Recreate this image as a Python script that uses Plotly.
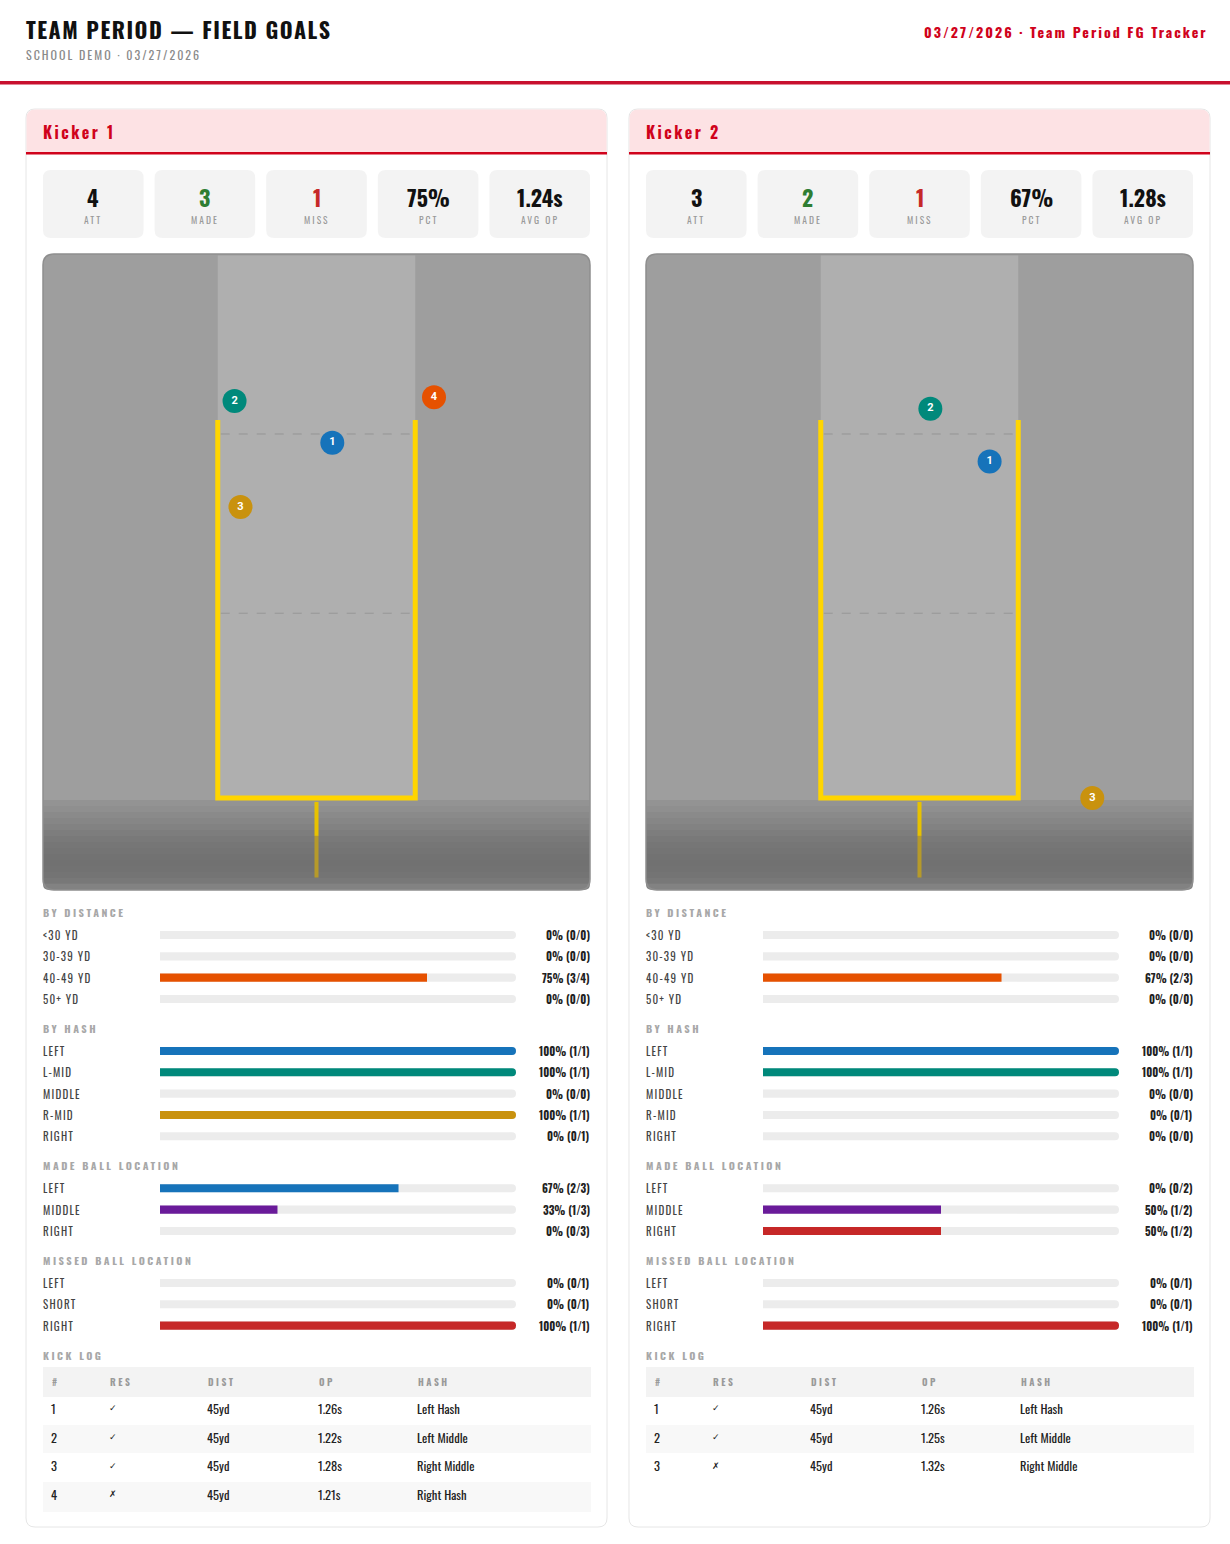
import plotly.graph_objects as go

W, H = 1230, 1544

# ------------------------------------------------------------------ data
TITLE = "TEAM PERIOD — FIELD GOALS"
SUBTITLE = "SCHOOL DEMO · 03/27/2026"
TAGLINE = "03/27/2026 · Team Period FG Tracker"

KICKER_NAMES = ["Kicker 1", "Kicker 2"]
STAT_LABELS = ["ATT", "MADE", "MISS", "PCT", "AVG OP"]
LOG_HEADERS = ["#", "RES", "DIST", "OP", "HASH"]

# kick logs
k1_num = [1, 2, 3, 4]
k1_good = [True, True, True, False]
k1_dist = [45, 45, 45, 45]
k1_op = [1.26, 1.22, 1.28, 1.21]
k1_hash = ["Left Hash", "Left Middle", "Right Middle", "Right Hash"]
# landing spot (x: uprights at -1/+1, y: crossbar = 0, upright tops = 1)
k1_land_x = [0.16, -0.83, -0.77, 1.19]
k1_land_y = [0.94, 1.05, 0.77, 1.06]

k2_num = [1, 2, 3]
k2_good = [True, True, False]
k2_dist = [45, 45, 45]
k2_op = [1.26, 1.25, 1.32]
k2_hash = ["Left Hash", "Left Middle", "Right Middle"]
k2_land_x = [0.71, 0.11, 1.75]
k2_land_y = [0.89, 1.03, 0.00]

# breakdown categories
DIST_CATS = ["<30 YD", "30-39 YD", "40-49 YD", "50+ YD"]
HASH_CATS = ["LEFT", "L-MID", "MIDDLE", "R-MID", "RIGHT"]
MADE_LOC_CATS = ["LEFT", "MIDDLE", "RIGHT"]
MISS_LOC_CATS = ["LEFT", "SHORT", "RIGHT"]
SECTION_TITLES = ["BY DISTANCE", "BY HASH", "MADE BALL LOCATION", "MISSED BALL LOCATION"]

# kicker 1 breakdown (made / total)
k1_dist_n = [0, 0, 3, 0]
k1_dist_d = [0, 0, 4, 0]
k1_hash_n = [1, 1, 0, 1, 0]
k1_hash_d = [1, 1, 0, 1, 1]
k1_madeloc_n = [2, 1, 0]
k1_madeloc_d = [3, 3, 3]
k1_missloc_n = [0, 0, 1]
k1_missloc_d = [1, 1, 1]

# kicker 2 breakdown
k2_dist_n = [0, 0, 2, 0]
k2_dist_d = [0, 0, 3, 0]
k2_hash_n = [1, 1, 0, 0, 0]
k2_hash_d = [1, 1, 0, 1, 0]
k2_madeloc_n = [0, 1, 1]
k2_madeloc_d = [2, 2, 2]
k2_missloc_n = [0, 0, 1]
k2_missloc_d = [1, 1, 1]

# colours
RED = "#d0021b"
HASH_COLOR = {"Left Hash": "#1673ba", "Left Middle": "#00897b", "Middle": "#6a1b9a",
              "Right Middle": "#c9920e", "Right Hash": "#e65100"}
DIST_COLORS = ["#e65100"] * 4
HASH_BAR_COLORS = ["#1673ba", "#00897b", "#6a1b9a", "#c9920e", "#e65100"]
MADE_LOC_COLORS = ["#1673ba", "#6a1b9a", "#c62828"]
MISS_LOC_COLORS = ["#1673ba", "#757575", "#c62828"]
STAT_COLORS = ["#111111", "#2e7d32", "#c62828", "#111111", "#111111"]

# field frame in landing coordinates
FIELD_X = [-2.77, 2.77]
FIELD_Y = [-0.243, 1.439]
DASH_LEVELS = [0.963, 0.489]
POST_BOTTOM = -0.21
TRACK_MAX = 100

# ------------------------------------------------------------------ helpers
COND = "Oswald, 'Liberation Sans Narrow', 'Arial Narrow', 'DejaVu Sans Condensed', Roboto, sans-serif"
WIDE = "Roboto, 'Noto Sans', 'DejaVu Sans', sans-serif"


def px(x):
    return x / W


def py(y):
    return 1 - y / H


def P(x, y):
    return f"{px(x):.5f},{py(y):.5f}"


def spaced(s, ls):
    return f'<span style="letter-spacing:{ls}px">{s}</span>' if ls else s


shapes, annotations, traces = [], [], []
layout_axes = {}


def rrect(x0, y0, x1, y1, r, fill, line=None, lw=0, tl=True, tr=True, br=True, bl=True):
    d = ["M" + P(x0 + (r if tl else 0), y0), "L" + P(x1 - (r if tr else 0), y0)]
    if tr:
        d.append("Q" + P(x1, y0) + " " + P(x1, y0 + r))
    d.append("L" + P(x1, y1 - (r if br else 0)))
    if br:
        d.append("Q" + P(x1, y1) + " " + P(x1 - r, y1))
    d.append("L" + P(x0 + (r if bl else 0), y1))
    if bl:
        d.append("Q" + P(x0, y1) + " " + P(x0, y1 - r))
    d.append("L" + P(x0, y0 + (r if tl else 0)))
    if tl:
        d.append("Q" + P(x0, y0) + " " + P(x0 + r, y0))
    d.append("Z")
    shapes.append(dict(type="path", path=" ".join(d), xref="paper", yref="paper",
                       fillcolor=fill, line=dict(color=line or "rgba(0,0,0,0)", width=lw),
                       layer="below"))


def rect(x0, y0, x1, y1, fill):
    shapes.append(dict(type="rect", xref="paper", yref="paper", x0=px(x0), x1=px(x1),
                       y0=py(y1), y1=py(y0), fillcolor=fill, line=dict(width=0), layer="below"))


def text(x, y, s, size, color, family=COND, weight=400, anchor="left", yref="paper", ls=0):
    # compensate the small inner padding of annotation boxes
    xo = x - 2 if anchor == "left" else (x + 2 if anchor == "right" else x)
    annotations.append(dict(x=px(xo), y=py(y) if yref == "paper" else y, xref="paper",
                            yref=yref, text=spaced(s, ls), showarrow=False, xanchor=anchor,
                            yanchor="middle",
                            font=dict(size=size, color=color, family=family, weight=weight)))


def akey(kind, n):
    return kind + ("" if n == 1 else str(n))


def aref(kind, n):
    return kind[0] + ("" if n == 1 else str(n))


# ------------------------------------------------------------------ page header
text(26, 29, TITLE, 22, "#111111", COND, 700, ls=1.5)
text(26, 54, SUBTITLE, 12, "#8a8a8a", COND, 400, ls=2)
text(1208, 32, TAGLINE, 14, RED, COND, 700, anchor="right", ls=2)
rect(0, 81, W, 84.5, "#c8102e")


def build_kicker(k, name, nums, good, dist, op, hsh, lx, ly, sections):
    dx = k * 603
    base = 1 + k * 5

    # panel
    rrect(26 + dx, 109, 607 + dx, 1527, 9, "#ffffff", "#e6e6e6", 1)
    rrect(26.5 + dx, 109.5, 606.5 + dx, 153, 9, "#fde2e4", br=False, bl=False)
    rect(26 + dx, 152, 607 + dx, 154.5, RED)
    text(43 + dx, 132, name, 16, RED, COND, 700, ls=2.5)

    # stat cards
    att = len(nums)
    made = sum(1 for g in good if g)
    vals = [str(att), str(made), str(att - made), f"{round(100 * made / att)}%",
            f"{sum(op) / len(op):.2f}s"]
    cw, gap = 100.6, 11.0
    for i, (v, lab) in enumerate(zip(vals, STAT_LABELS)):
        x0 = 43 + dx + i * (cw + gap)
        rrect(x0, 170, x0 + cw, 238, 8, "#f3f3f3")
        text(x0 + cw / 2, 197, v, 22, STAT_COLORS[i], COND, 700, anchor="center")
        text(x0 + cw / 2, 220, lab, 9.5, "#9a9a9a", COND, 400, anchor="center", ls=2)

    # field
    fx, fy = akey("xaxis", base), akey("yaxis", base)
    layout_axes[fx] = dict(domain=[px(43 + dx), px(590 + dx)], range=FIELD_X, visible=False,
                           fixedrange=True, anchor=aref("y", base))
    layout_axes[fy] = dict(domain=[py(890), py(254)], range=FIELD_Y, visible=False,
                           fixedrange=True, anchor=aref("x", base))
    xr, yr = aref("x", base), aref("y", base)
    rrect(43 + dx, 254, 590 + dx, 890, 11, "#9e9e9e")
    # ground gradient
    stops = [(0.0, 150), (0.15, 140), (0.45, 120), (0.7, 113), (0.88, 118), (1.0, 135)]
    n_strip = 15
    g0, g1 = 800, 890
    for j in range(n_strip):
        t = (j + 0.5) / n_strip
        for (ta, va), (tb, vb) in zip(stops[:-1], stops[1:]):
            if ta <= t <= tb:
                v = int(va + (vb - va) * (t - ta) / (tb - ta))
                break
        c = f"rgb({v},{v},{v})"
        y0 = g0 + (g1 - g0) * j / n_strip
        y1 = g0 + (g1 - g0) * (j + 1) / n_strip
        if j == n_strip - 1:
            rrect(43 + dx, y0 - 0.3, 590 + dx, y1, 6, c, tl=False, tr=False)
        else:
            rect(43 + dx, y0, 590 + dx, y1 + 0.4, c)
    rrect(43 + dx, 254, 590 + dx, 890, 11, "rgba(0,0,0,0)", "#8e8e8e", 1.5)
    # centre band between uprights
    shapes.append(dict(type="rect", xref=xr, yref=yr, x0=-1, x1=1, y0=0, y1=FIELD_Y[1] - 0.004,
                       fillcolor="#afafaf", line=dict(width=0), layer="below"))
    for lv in DASH_LEVELS:
        shapes.append(dict(type="line", xref=xr, yref=yr, x0=-0.97, x1=0.97, y0=lv, y1=lv,
                           line=dict(color="rgba(120,120,120,0.45)", width=1, dash="dash"),
                           layer="below"))
    # goalpost
    shapes.append(dict(type="path", xref=xr, yref=yr, path="M -1,1 L -1,0 L 1,0 L 1,1",
                       line=dict(color="#ffd500", width=5), layer="below"))
    shapes.append(dict(type="line", xref=xr, yref=yr, x0=0, x1=0, y0=-0.01, y1=-0.1,
                       line=dict(color="#e8c200", width=4), layer="below"))
    shapes.append(dict(type="line", xref=xr, yref=yr, x0=0, x1=0, y0=-0.1, y1=POST_BOTTOM,
                       line=dict(color="#b69a2a", width=4), layer="below"))
    traces.append(go.Scatter(x=lx, y=ly, xaxis=xr, yaxis=yr, mode="markers+text",
                             text=[str(n) for n in nums], textposition="middle center",
                             textfont=dict(color="#ffffff", size=11, family=WIDE, weight=700),
                             marker=dict(size=24, color=[HASH_COLOR[h] for h in hsh],
                                         line=dict(width=0)),
                             hoverinfo="skip", showlegend=False, cliponaxis=False))

    # breakdown sections
    PITCH = 21.33
    cursor = 912
    for s, (title, cats, sn, sd, cols) in enumerate(sections):
        n = base + 1 + s
        text(43 + dx, cursor, title, 10.5, "#a8a8a8", COND, 700, ls=2.5)
        rows = [cursor + 23 + i * PITCH for i in range(len(cats))]
        top, bot = rows[0] - PITCH / 2, rows[-1] + PITCH / 2
        layout_axes[akey("xaxis", n)] = dict(domain=[px(160 + dx), px(516 + dx)],
                                             range=[0, TRACK_MAX], visible=False,
                                             fixedrange=True, anchor=aref("y", n))
        layout_axes[akey("yaxis", n)] = dict(domain=[py(bot), py(top)], type="category",
                                             categoryorder="array", categoryarray=cats,
                                             range=[len(cats) - 0.5, -0.5], visible=False,
                                             fixedrange=True, anchor=aref("x", n))
        pcts = [round(100 * a / b) if b else 0 for a, b in zip(sn, sd)]
        traces.append(go.Bar(x=[TRACK_MAX] * len(cats), y=cats, orientation="h",
                             xaxis=aref("x", n), yaxis=aref("y", n), width=0.38,
                             marker=dict(color="#ececec", cornerradius=4, line=dict(width=0)),
                             hoverinfo="skip", showlegend=False))
        traces.append(go.Bar(x=pcts, y=cats, orientation="h",
                             xaxis=aref("x", n), yaxis=aref("y", n), width=0.38,
                             marker=dict(color=cols, cornerradius=4, line=dict(width=0)),
                             hoverinfo="skip", showlegend=False))
        for i, c in enumerate(cats):
            text(43 + dx, i, c, 11, "#444444", COND, 400, yref=aref("y", n), ls=1.2)
            text(590 + dx, i, f"{pcts[i]}% ({sn[i]}/{sd[i]})", 11, "#222222", COND, 700,
                 anchor="right", yref=aref("y", n))
        cursor = rows[-1] + 29

    # kick log
    text(43 + dx, cursor, "KICK LOG", 10.5, "#a8a8a8", COND, 700, ls=2.5)
    ttop = cursor + 13
    hh, ch = 29, 28.6
    colw = [58, 98, 111, 99, 181]
    nrow = len(nums)
    fills = [["#ffffff" if r % 2 == 0 else "#f8f8f8" for r in range(nrow)] for _ in range(5)]
    traces.append(go.Table(
        domain=dict(x=[px(43 + dx), px(590 + dx)], y=[py(ttop + hh + nrow * ch + 4), py(ttop)]),
        columnwidth=colw,
        header=dict(values=[""] * len(LOG_HEADERS), height=hh, align="left",
                    fill=dict(color="#f3f3f3"), line=dict(color="#f3f3f3", width=1)),
        cells=dict(values=[[str(v) for v in nums],
                           ["✓" if g else "✗" for g in good],
                           [f"{d}yd" for d in dist],
                           [f"{o:.2f}s" for o in op],
                           hsh],
                   height=ch, align="left", fill=dict(color=fills),
                   line=dict(color=fills, width=1),
                   font=dict(size=[12.5, 9, 12.5, 12.5, 12.5], color="#222222",
                             family=[COND, "DejaVu Sans", COND, COND, COND]))))
    # column headings (letter-spaced) over the header band
    cx = 43 + dx
    for h, w in zip(LOG_HEADERS, colw):
        text(cx + 9, ttop + 14, h, 9.5, "#9a9a9a", COND, 700, ls=2.5)
        cx += w


build_kicker(0, KICKER_NAMES[0], k1_num, k1_good, k1_dist, k1_op, k1_hash, k1_land_x, k1_land_y,
             [(SECTION_TITLES[0], DIST_CATS, k1_dist_n, k1_dist_d, DIST_COLORS),
              (SECTION_TITLES[1], HASH_CATS, k1_hash_n, k1_hash_d, HASH_BAR_COLORS),
              (SECTION_TITLES[2], MADE_LOC_CATS, k1_madeloc_n, k1_madeloc_d, MADE_LOC_COLORS),
              (SECTION_TITLES[3], MISS_LOC_CATS, k1_missloc_n, k1_missloc_d, MISS_LOC_COLORS)])
build_kicker(1, KICKER_NAMES[1], k2_num, k2_good, k2_dist, k2_op, k2_hash, k2_land_x, k2_land_y,
             [(SECTION_TITLES[0], DIST_CATS, k2_dist_n, k2_dist_d, DIST_COLORS),
              (SECTION_TITLES[1], HASH_CATS, k2_hash_n, k2_hash_d, HASH_BAR_COLORS),
              (SECTION_TITLES[2], MADE_LOC_CATS, k2_madeloc_n, k2_madeloc_d, MADE_LOC_COLORS),
              (SECTION_TITLES[3], MISS_LOC_CATS, k2_missloc_n, k2_missloc_d, MISS_LOC_COLORS)])

fig = go.Figure(data=traces)
fig.update_layout(
    template="none", width=W, height=H, margin=dict(l=0, r=0, t=0, b=0),
    paper_bgcolor="#ffffff", plot_bgcolor="rgba(0,0,0,0)", barmode="overlay",
    showlegend=False, shapes=shapes, annotations=annotations, hovermode=False,
    **layout_axes)
fig.write_html("out.html", config={"displayModeBar": False},
               post_script="document.body.style.margin='0';")
